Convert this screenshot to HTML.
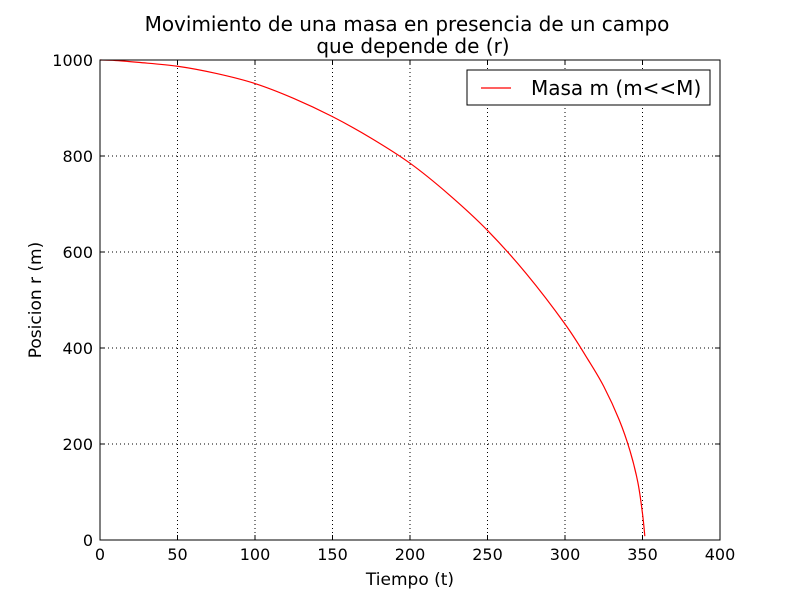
<!DOCTYPE html>
<html><head><meta charset="utf-8"><style>
body{margin:0;background:#fff;}
svg text{font-family:"DejaVu Sans","Liberation Sans",sans-serif;fill:#000;}
</style></head><body>
<svg id="chart" width="800" height="600" xmlns="http://www.w3.org/2000/svg">
<rect width="800" height="600" fill="#fff"/>
<text x="407" y="31" font-size="20" text-anchor="middle">Movimiento de una masa en presencia de un campo</text>
<text x="413" y="53" font-size="20" text-anchor="middle">que depende de (r)</text>
<g id="grid"></g>
<g id="series"></g>
<rect x="100" y="60" width="620" height="480" fill="none" stroke="#000" stroke-width="1"/>
<g id="ticks"></g>
<text x="410" y="585" font-size="17" text-anchor="middle">Tiempo (t)</text>
<text transform="translate(41,300) rotate(-90)" font-size="17" text-anchor="middle">Posicion r (m)</text>
<g>
<rect x="467" y="70" width="243" height="35" fill="#fff" stroke="#000"/>
<line x1="481" y1="88" x2="511" y2="88" stroke="#f00" stroke-width="1.2"/>
<text x="531" y="95" font-size="20">Masa m (m&lt;&lt;M)</text>
</g>
</svg>
<script>
const xTicks=[0,50,100,150,200,250,300,350,400];
const yTicks=[0,200,400,600,800,1000];
const times=[0,10,25,50,75,100,125,150,175,200,225,250,275,300,315,325,335,342,347,350,351.5];
const positions=[1000,999,995,987,972,951,920,882,837,785,720,645,555,450,375,320,250,185,120,55,8];
const NS="http://www.w3.org/2000/svg";
const X=v=>100+v/400*620, Y=v=>540-v/1000*480;
const grid=document.getElementById('grid'), ticks=document.getElementById('ticks'), series=document.getElementById('series');
function mk(tag,attrs,parent){const e=document.createElementNS(NS,tag);for(const k in attrs)e.setAttribute(k,attrs[k]);parent.appendChild(e);return e;}
xTicks.forEach(v=>{
  const x=X(v);
  if(v>0&&v<400){const g=mk('line',{x1:x,x2:x,y1:60,y2:540,stroke:'#000','stroke-dasharray':'1,3'},grid);
  
  }
  mk('line',{x1:x,x2:x,y1:540,y2:535,stroke:'#000'},ticks);
  mk('line',{x1:x,x2:x,y1:60,y2:65,stroke:'#000'},ticks);
  const t=mk('text',{x:x,y:560,'font-size':16,'text-anchor':'middle'},ticks);t.textContent=v;
  
  
});
yTicks.forEach(v=>{
  const y=Y(v);
  if(v>0&&v<1000){const g=mk('line',{x1:100,x2:720,y1:y,y2:y,stroke:'#000','stroke-dasharray':'1,3'},grid);
  
  }
  mk('line',{x1:100,x2:105,y1:y,y2:y,stroke:'#000'},ticks);
  mk('line',{x1:720,x2:715,y1:y,y2:y,stroke:'#000'},ticks);
  const t=mk('text',{x:93,y:y+6,'font-size':16,'text-anchor':'end'},ticks);t.textContent=v;
  
  
});
const pts=times.map((t,i)=>[X(t),Y(positions[i])]);
let d='M'+pts[0][0]+','+pts[0][1];
for(let i=0;i<pts.length-1;i++){
  const p0=pts[Math.max(0,i-1)],p1=pts[i],p2=pts[i+1],p3=pts[Math.min(pts.length-1,i+2)];
  const c1=[p1[0]+(p2[0]-p0[0])/6,p1[1]+(p2[1]-p0[1])/6];
  const c2=[p2[0]-(p3[0]-p1[0])/6,p2[1]-(p3[1]-p1[1])/6];
  d+=' C'+c1[0]+','+c1[1]+' '+c2[0]+','+c2[1]+' '+p2[0]+','+p2[1];
}
const pl=mk('path',{d:d,fill:'none',stroke:'#f00','stroke-width':1.2},series);


</script>
</body></html>
